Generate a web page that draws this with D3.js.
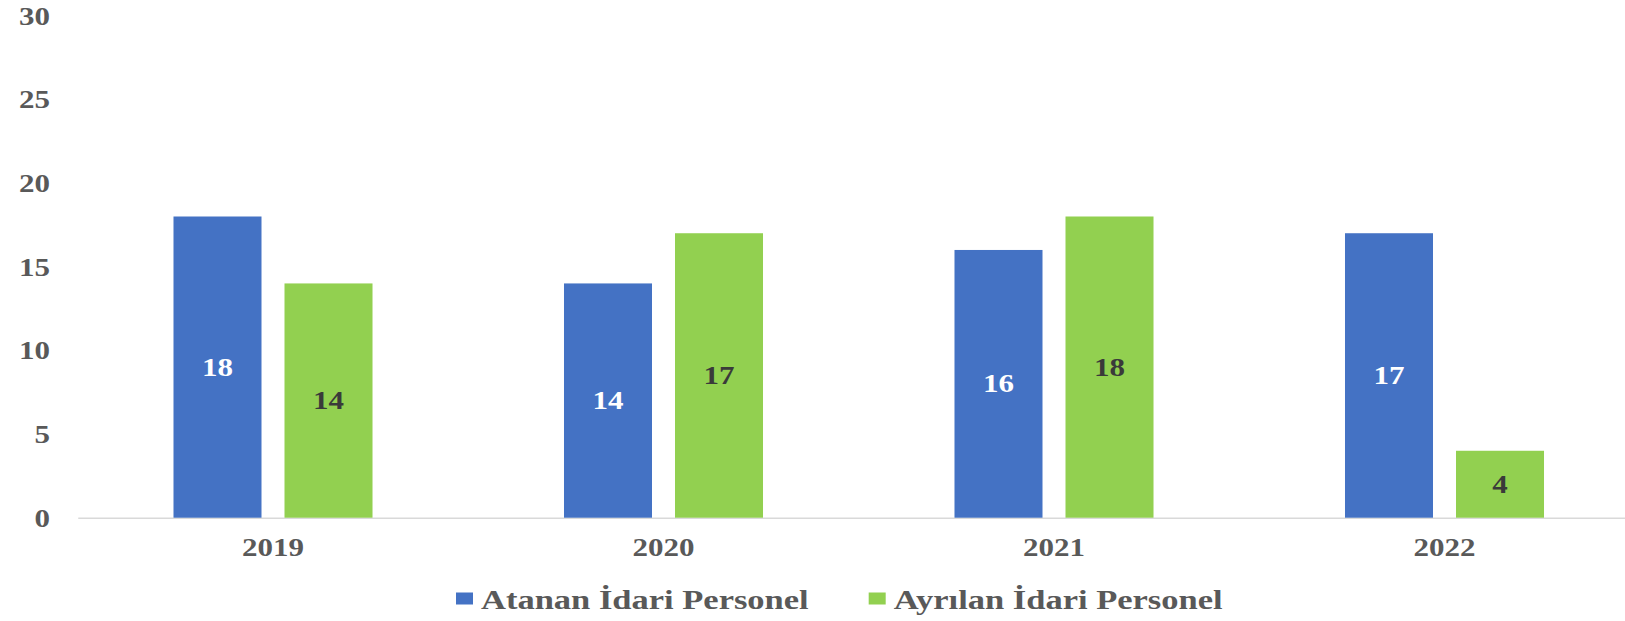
<!DOCTYPE html>
<html lang="tr">
<head>
<meta charset="utf-8">
<script src="https://cdn.jsdelivr.net/npm/d3@7"></script>
<style>
  html, body { margin: 0; padding: 0; background: #ffffff; }
  svg { display: block; }
  text { font-family: "Liberation Serif", "Times New Roman", serif; font-weight: bold; }
</style>
</head>
<body>
<svg id="chart" width="1625" height="621"></svg>
<script>
// Yıllar ve seriler
const years = ["2019", "2020", "2021", "2022"];
const seriesNames = ["Atanan İdari Personel", "Ayrılan İdari Personel"];
const atanan = [18, 14, 16, 17];
const ayrilan = [14, 17, 18, 4];
const yTicks = [0, 5, 10, 15, 20, 25, 30];

const colors = ["#4472C4", "#92D050"];
const labelColors = ["#ffffff", "#3a3a3a"];
const textGray = "#595959";
const squash = 0.8;      // glyphs are drawn slightly flattened
const numSize = 31;
const legendSize = 34.5;

const svg = d3.select("#chart");

const x0 = d3.scaleBand().domain(years).range([77.75, 1639.75]).paddingInner(0).paddingOuter(0);
const x1 = d3.scaleBand().domain(seriesNames).range([0, x0.bandwidth()])
  .paddingInner(23 / 111).paddingOuter(0.8625);
const y = d3.scaleLinear().domain([0, 30]).range([517.7, 15.7]);

const rows = years.map((yr, i) => ({ year: yr, values: [atanan[i], ayrilan[i]] }));

// Y ekseni (yalnızca etiketler)
const yAxis = svg.append("g")
  .attr("transform", "translate(58,0)")
  .call(d3.axisLeft(y).tickValues(yTicks).tickSize(0).tickPadding(8).tickFormat(d3.format("d")));
yAxis.select(".domain").remove();
yAxis.selectAll("text")
  .attr("fill", textGray)
  .style("font-size", numSize + "px")
  .attr("dy", "0.34em")
  .attr("transform", `scale(1,${squash})`);

// X ekseni: taban çizgisi ve yıl etiketleri
const xAxis = svg.append("g")
  .attr("transform", `translate(0,${y(0)})`)
  .call(d3.axisBottom(x0).tickSize(0).tickSizeOuter(0));
xAxis.select(".domain").attr("stroke", "#d9d9d9").attr("stroke-width", 1.5);
xAxis.selectAll("text")
  .attr("fill", textGray)
  .style("font-size", numSize + "px")
  .attr("y", (556.5 - y(0)) / squash)
  .attr("dy", 0)
  .attr("transform", `scale(1,${squash})`);

// Sütunlar
const groups = svg.append("g").selectAll("g")
  .data(rows).join("g")
  .attr("transform", d => `translate(${x0(d.year)},0)`);

groups.selectAll("rect")
  .data(d => d.values.map((v, k) => ({ key: seriesNames[k], k, v })))
  .join("rect")
  .attr("x", d => x1(d.key))
  .attr("y", d => y(d.v))
  .attr("width", x1.bandwidth())
  .attr("height", d => y(0) - y(d.v))
  .attr("fill", d => colors[d.k]);

// Değer etiketleri (sütun ortasında)
groups.selectAll("text.val")
  .data(d => d.values.map((v, k) => ({ key: seriesNames[k], k, v })))
  .join("text")
  .attr("class", "val")
  .attr("transform", d => `translate(${x1(d.key) + x1.bandwidth() / 2},${(y(d.v) + y(0)) / 2}) scale(1,${squash})`)
  .attr("text-anchor", "middle")
  .attr("dy", "0.34em")
  .attr("fill", d => labelColors[d.k])
  .style("font-size", numSize + "px")
  .text(d => d.v);

// Gösterge
const legend = svg.append("g");
let lx = 456;
seriesNames.forEach((name, k) => {
  legend.append("rect")
    .attr("x", lx).attr("y", 592.5)
    .attr("width", 17).attr("height", 12)
    .attr("fill", colors[k]);
  const t = legend.append("text")
    .attr("transform", `translate(${lx + 25},608.7) scale(1,${squash})`)
    .attr("fill", textGray)
    .style("font-size", legendSize + "px")
    .text(name);
  lx += 25 + t.node().getComputedTextLength() + 60;
});
</script>
</body>
</html>
